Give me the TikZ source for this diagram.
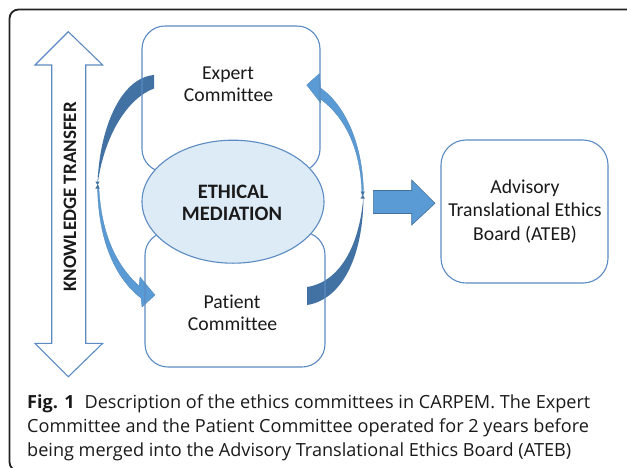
\documentclass[tikz,border=0pt]{standalone}
\usepackage{fontspec}
\usetikzlibrary{shapes.geometric}
\setmainfont{Carlito}[Ligatures={NoCommon}]
\newfontfamily\capfont{Open Sans}
\definecolor{boxc}{HTML}{5B8BC2}
\definecolor{ellfill}{HTML}{DDEBF7}
\definecolor{darkarr}{HTML}{4271A3}
\definecolor{lightarr}{HTML}{5B9BD5}
\definecolor{arredge}{HTML}{41719C}
\definecolor{txt}{HTML}{1A1A1A}
\definecolor{framec}{HTML}{222222}
\tikzset{
  box/.style={draw=boxc, line width=1.1pt, rounded corners=23pt, inner sep=0pt},
  lbl/.style={font=\fontsize{19.7}{23}\selectfont, text=txt, inner sep=0pt, anchor=base},
  blbl/.style={font=\fontsize{20.5}{23}\selectfont\bfseries, text=txt, inner sep=0pt, anchor=base},
  ktlbl/.style={font=\fontsize{19}{23}\selectfont\bfseries, text=txt, inner sep=0pt},
  captext/.style={font=\capfont\fontsize{18.1}{24}\selectfont, text=txt, inner sep=0pt, anchor=base west},
  handle/.style={fill=arredge},
}
\begin{document}
\begin{tikzpicture}[x=1pt,y=-1pt]
\useasboundingbox (0,0) rectangle (627,467);
\fill[white] (0,0) rectangle (627,467);
% frame
\draw[framec, line width=1.8pt, rounded corners=9pt] (640,9.5) -- (9.5,9.5) -- (9.5,471) -- (40,471);
% knowledge transfer double arrow
\draw[boxc, line width=1.1pt, fill=white] (68.3,31.7) -- (102.7,65) -- (85.7,65) -- (85.7,343.3) -- (102.7,343.3) -- (68.3,376.7) -- (35,343.3) -- (51.7,343.3) -- (51.7,65) -- (35,65) -- cycle;
\node[ktlbl, anchor=center, rotate=90] (kt) at (70,197) {KNOWLEDGE TRANSFER};
% left curved arrow
\fill[darkarr] (154,75) .. controls (120,78) and (99,130) .. (97.5,185)
   .. controls (104,135) and (128,98) .. (154,88.5) -- cycle;
\filldraw[fill=lightarr, draw=lightarr!85!black, line width=0.3pt] (97.5,185) .. controls (98,240) and (115,278) .. (141,298)
   -- (142,307) -- (155,295) -- (140,277) -- (139,286)
   .. controls (117,266) and (101,235) .. (98.8,186) -- cycle;
\fill[handle] (95.3,181.5) -- (99.7,181.5) -- (95.3,188.5) -- (99.7,188.5) -- cycle;
% right curved arrow
\filldraw[fill=lightarr, draw=lightarr!85!black, line width=0.3pt] (362,195) .. controls (361,150) and (346,118) .. (320.5,99)
   -- (320.7,103) -- (306.7,85) -- (319.5,73.5) -- (320.5,88)
   .. controls (345,105) and (363.5,145) .. (363.5,195) -- cycle;
\fill[darkarr] (307,305) .. controls (340,300) and (363.5,260) .. (363.5,195)
   .. controls (360,245) and (340,282) .. (307,287) -- cycle;
\fill[handle] (360.5,191.5) -- (364.9,191.5) -- (360.5,198.5) -- (364.9,198.5) -- cycle;
% committee boxes
\node[box, minimum width=178pt, minimum height=146pt] (expert) at (231,99) {};
\node[box, minimum width=180pt, minimum height=135pt] (patient) at (235,299.5) {};
% ellipse
\node[draw=boxc, fill=ellfill, line width=1.1pt, ellipse, minimum width=182pt, minimum height=123pt, inner sep=0pt] (med) at (233,201.7) {};
% texts
\node[lbl] (e1) at (228,79) {Expert};
\node[lbl] (e2) at (228.5,101.7) {Committee};
\node[blbl] (m1) at (233,198.5) {ETHICAL};
\node[blbl] (m2) at (232,220.7) {MEDIATION};
\node[lbl] (p1) at (232,308) {Patient};
\node[lbl] (p2) at (232.5,330.5) {Committee};
% block arrow
\filldraw[fill=lightarr, draw=arredge, line width=0.6pt] (373.3,190.5) -- (411.7,190.5) -- (411.7,180) -- (435,203.3) -- (411.7,225) -- (411.7,213.5) -- (373.3,213.5) -- cycle;
% ATEB
\node[box, rounded corners=25pt, minimum width=167pt, minimum height=143pt] (ateb) at (524.5,211.5) {};
\node[lbl] (a1) at (525,193.3) {Advisory};
\node[lbl] (a2) at (525,216.7) {Translational Ethics};
\node[lbl] (a3) at (525,240) {Board (ATEB)};
% caption
\node[captext] (cap1) at (27,408) {\textbf{Fig. 1}\hspace{0.55em}Description of the ethics committees in CARPEM. The Expert};
\node[captext] (cap2) at (27,432) {Committee and the Patient Committee operated for 2 years before};
\node[captext] (cap3) at (27,456) {being merged into the Advisory Translational Ethics Board (ATEB)};
\end{tikzpicture}
\end{document}
